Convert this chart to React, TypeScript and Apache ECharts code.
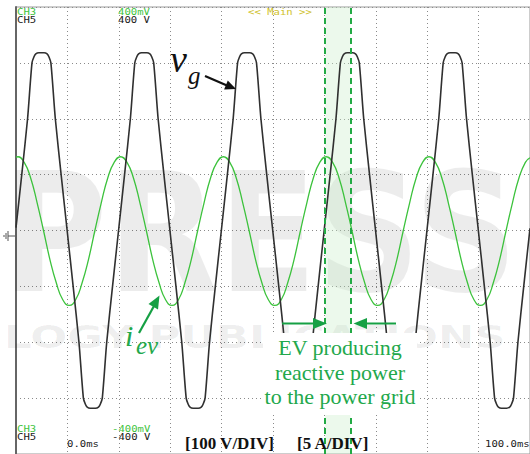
import React, { useEffect, useRef } from "react";
import * as echarts from "echarts";

// Time axis: 0 .. 100 ms (10 ms/div); grid voltage axis: 100 V/div; EV current axis: 5 A/div
const timeRange = [0, 100];
const voltRange = [-400, 400];
const currRange = [-20, 20];

// v_g (grid voltage, V): [time ms, volts]
const vgSamples: [number, number][] = [
  [0, 5], [1.12, 100], [2.25, 200], [3.11, 300], [3.5, 311], [3.85, 316], [4.45, 318], [5.45, 318], [6.05, 316], [6.4, 311], [6.79, 300], [7.65, 200], [8.78, 100], [9.95, 0],
  [11.12, -100], [12.25, -200], [13.11, -300], [13.5, -311], [13.85, -316], [14.45, -318], [15.45, -318], [16.05, -316], [16.4, -311], [16.79, -300], [17.65, -200], [18.78, -100], [19.95, 0],
  [21.12, 100], [22.25, 200], [23.11, 300], [23.5, 311], [23.85, 316], [24.45, 318], [25.45, 318], [26.05, 316], [26.4, 311], [26.79, 300], [27.65, 200], [28.78, 100], [29.95, 0],
  [31.12, -100], [32.25, -200], [33.11, -300], [33.5, -311], [33.85, -316], [34.45, -318], [35.45, -318], [36.05, -316], [36.4, -311], [36.79, -300], [37.65, -200], [38.78, -100], [39.95, 0],
  [41.12, 100], [42.25, 200], [43.11, 300], [43.5, 311], [43.85, 316], [44.45, 318], [45.45, 318], [46.05, 316], [46.4, 311], [46.79, 300], [47.65, 200], [48.78, 100], [49.95, 0],
  [51.12, -100], [52.25, -200], [53.11, -300], [53.5, -311], [53.85, -316], [54.45, -318], [55.45, -318], [56.05, -316], [56.4, -311], [56.79, -300], [57.65, -200], [58.78, -100], [59.95, 0],
  [61.12, 100], [62.25, 200], [63.11, 300], [63.5, 311], [63.85, 316], [64.45, 318], [65.45, 318], [66.05, 316], [66.4, 311], [66.79, 300], [67.65, 200], [68.78, 100], [69.95, 0],
  [71.12, -100], [72.25, -200], [73.11, -300], [73.5, -311], [73.85, -316], [74.45, -318], [75.45, -318], [76.05, -316], [76.4, -311], [76.79, -300], [77.65, -200], [78.78, -100], [79.95, 0],
  [81.12, 100], [82.25, 200], [83.11, 300], [83.5, 311], [83.85, 316], [84.45, 318], [85.45, 318], [86.05, 316], [86.4, 311], [86.79, 300], [87.65, 200], [88.78, 100], [89.95, 0],
  [91.12, -100], [92.25, -200], [93.11, -300], [93.5, -311], [93.85, -316], [94.45, -318], [95.45, -318], [96.05, -316], [96.4, -311], [96.79, -300], [97.65, -200], [98.78, -100], [99.95, 0],
  [100, 4],
];

// i_ev (EV current, A): [time ms, amps]
const ievSamples: [number, number][] = [
  [0, 6.55], [0.35, 6.6], [1.6, 6.1], [2.85, 4.7], [4.1, 2.5], [5.35, 0], [6.6, -2.6], [7.85, -4.7], [9.1, -6.2], [10.35, -6.7], [11.6, -6.2], [12.85, -4.7], [14.1, -2.6], [15.35, 0], [16.6, 2.5], [17.85, 4.7], [19.1, 6.1],
  [20.35, 6.6], [21.6, 6.1], [22.85, 4.7], [24.1, 2.5], [25.35, 0], [26.6, -2.6], [27.85, -4.7], [29.1, -6.2], [30.35, -6.7], [31.6, -6.2], [32.85, -4.7], [34.1, -2.6], [35.35, 0], [36.6, 2.5], [37.85, 4.7], [39.1, 6.1],
  [40.35, 6.6], [41.6, 6.1], [42.85, 4.7], [44.1, 2.5], [45.35, 0], [46.6, -2.6], [47.85, -4.7], [49.1, -6.2], [50.35, -6.7], [51.6, -6.2], [52.85, -4.7], [54.1, -2.6], [55.35, 0], [56.6, 2.5], [57.85, 4.7], [59.1, 6.1],
  [60.35, 6.6], [61.6, 6.1], [62.85, 4.7], [64.1, 2.5], [65.35, 0], [66.6, -2.6], [67.85, -4.7], [69.1, -6.2], [70.35, -6.7], [71.6, -6.2], [72.85, -4.7], [74.1, -2.6], [75.35, 0], [76.6, 2.5], [77.85, 4.7], [79.1, 6.1],
  [80.35, 6.6], [81.6, 6.1], [82.85, 4.7], [84.1, 2.5], [85.35, 0], [86.6, -2.6], [87.85, -4.7], [89.1, -6.2], [90.35, -6.7], [91.6, -6.2], [92.85, -4.7], [94.1, -2.6], [95.35, 0], [96.6, 2.5], [97.85, 4.7], [99.1, 6.1],
  [100, 6.5],
];

// highlighted interval (ms): i_ev peak to v_g peak
const reactiveWindow = [60.15, 65.05];

// on-screen scope texts
const channelLabels = ["CH3", "CH5"];
const topScaleLabels = ["400mV", "400 V"];
const bottomScaleLabels = ["-400mV", "-400 V"];
const timeLabels = ["0.0ms", "100.0ms"];
const divLabels = ["[100 V/DIV]", "[5 A/DIV]"];
const noteLines = ["EV producing", "reactive power", "to the power grid"];
const watermarkLines = ["PRESS", "LOGY PUBLICATIONS"];

const GREEN_TRACE = "#3cc23c";
const GREEN_TEXT = "#22a84b";
const GREEN_ARROW = "#16a044";
const SCOPE_GREEN = "#3fc43f";
const MONO = '"DejaVu Sans Mono", monospace';
const SERIF = '"Liberation Serif", "Times New Roman", serif';

function buildOption(): any {
  const txt = (text: string, x: number, y: number, font: string, fill: string, extra: any = {}, el: any = {}) => ({
    type: "text",
    x,
    y,
    z: 120,
    silent: true,
    ...el,
    style: { text, font, fill, verticalAlign: "middle", align: "left", ...extra },
  });
  const mono = (text: string, x: number, y: number, fill: string) =>
    txt(text, x, y, `8.5px ${MONO}`, fill, {}, { scaleX: 1.25 });
  const ln = (x1: number, y1: number, x2: number, y2: number, stroke: string, w: number, z = 120) => ({
    type: "line",
    z,
    silent: true,
    shape: { x1, y1, x2, y2 },
    style: { stroke, lineWidth: w },
  });
  const poly = (points: number[][], fill: string) => ({
    type: "polygon",
    z: 120,
    silent: true,
    shape: { points },
    style: { fill },
  });

  const elements: any[] = [
    // watermark
    {
      type: "text", x: 2, y: 234, z: 1, silent: true, scaleY: 1.15,
      style: { text: watermarkLines[0], font: 'bold 144px "DejaVu Sans"', fill: "rgba(0,0,0,0.075)", verticalAlign: "middle" },
    },
    {
      type: "text", x: 4, y: 337, z: 1, silent: true, scaleX: 1.36,
      style: { text: watermarkLines[1], font: 'bold 32px "DejaVu Sans"', fill: "rgba(0,0,0,0.065)", verticalAlign: "middle" },
    },
    // top scope labels
    mono(channelLabels[0], 17, 12, SCOPE_GREEN),
    mono(channelLabels[1], 17, 19.8, "#222"),
    mono(topScaleLabels[0], 118, 12, SCOPE_GREEN),
    mono(topScaleLabels[1], 118, 19.8, "#222"),
    mono("<< Main >>", 248, 12, "#cfc12a"),
    // bottom scope labels
    mono(channelLabels[0], 17, 429.3, SCOPE_GREEN),
    mono(channelLabels[1], 17, 437.1, "#222"),
    mono(bottomScaleLabels[0], 112, 429.3, SCOPE_GREEN),
    mono(bottomScaleLabels[1], 112, 437.1, "#222"),
    mono(timeLabels[0], 67, 444, "#222"),
    mono(timeLabels[1], 485, 444, "#222"),
    txt(divLabels[0], 185, 443, `bold 17px ${SERIF}`, "#111"),
    txt(divLabels[1], 297, 443, `bold 17px ${SERIF}`, "#111"),
    // ground marker
    ln(8, 236, 15, 236, "#555", 1),
    ln(8, 231, 8, 241, "#555", 1),
    ln(6, 233, 6, 239, "#555", 1),
    ln(4, 235, 4, 237, "#555", 1),
    // v_g label + arrow
    txt("v", 170, 59, `italic 38px ${SERIF}`, "#111"),
    txt("g", 188, 75, `italic 25px ${SERIF}`, "#111"),
    ln(205, 76, 227, 85.5, "#111", 2.2),
    poly([[236, 89], [224.1, 89.5], [227.8, 80.5]], "#111"),
    // i_ev label + arrow
    txt("i", 125, 335, `italic 30px ${SERIF}`, GREEN_TEXT),
    txt("ev", 136, 345, `italic 25px ${SERIF}`, GREEN_TEXT),
    ln(139, 333, 154, 306, GREEN_ARROW, 2.2),
    poly([[159.5, 295.5], [158, 309.5], [148.5, 304]], GREEN_ARROW),
    // window arrows
    ln(282, 323.5, 315, 323.5, GREEN_ARROW, 2),
    poly([[327, 323.5], [313, 318], [313, 329]], GREEN_ARROW),
    ln(396, 323.5, 365, 323.5, GREEN_ARROW, 2),
    poly([[353.5, 323.5], [367, 318], [367, 329]], GREEN_ARROW),
    // annotation box
    { type: "rect", z: 110, silent: true, shape: { x: 263, y: 333, width: 154, height: 82 }, style: { fill: "#ffffff" } },
    txt(noteLines[0], 340, 347.5, `22px ${SERIF}`, GREEN_TEXT, { align: "center" }),
    txt(noteLines[1], 340, 372.5, `22px ${SERIF}`, GREEN_TEXT, { align: "center" }),
    txt(noteLines[2], 340, 396.5, `22px ${SERIF}`, GREEN_TEXT, { align: "center" }),
  ];

  const dotted = { type: [1, 3], color: "#8a8a8a", width: 1 };

  return {
    animation: false,
    backgroundColor: "#ffffff",
    grid: {
      left: 16,
      top: 7,
      width: 517.5,
      height: 448,
      show: true,
      borderColor: "#9a9a9a",
      borderWidth: 1,
      backgroundColor: "#ffffff",
      containLabel: false,
    },
    xAxis: {
      type: "value",
      min: timeRange[0],
      max: timeRange[1],
      interval: 10,
      axisLine: { show: false },
      axisTick: { show: false },
      axisLabel: { show: false },
      splitLine: { show: true, lineStyle: dotted },
    },
    yAxis: [
      {
        type: "value",
        min: voltRange[0],
        max: voltRange[1],
        interval: 100,
        axisLine: { show: true, onZero: false, lineStyle: { color: "#666", width: 2 } },
        axisTick: { show: false },
        axisLabel: { show: false },
        splitLine: { show: true, lineStyle: dotted },
      },
      {
        type: "value",
        min: currRange[0],
        max: currRange[1],
        interval: 5,
        show: false,
        splitLine: { show: false },
      },
    ],
    series: [
      {
        type: "line",
        name: "window",
        data: [],
        z: 1,
        silent: true,
        markArea: {
          silent: true,
          itemStyle: { color: "rgba(200,238,200,0.35)" },
          data: [[{ xAxis: reactiveWindow[0] }, { xAxis: reactiveWindow[1] }]],
        },
        markLine: {
          silent: true,
          symbol: "none",
          label: { show: false },
          lineStyle: { type: [6, 4], color: "#22aa44", width: 2 },
          data: [{ xAxis: reactiveWindow[0] }, { xAxis: reactiveWindow[1] }],
        },
      },
      {
        type: "line",
        name: "i_ev",
        yAxisIndex: 1,
        data: ievSamples,
        showSymbol: false,
        smooth: 0.5,
        z: 3,
        lineStyle: { color: GREEN_TRACE, width: 1.3 },
      },
      {
        type: "line",
        name: "v_g",
        yAxisIndex: 0,
        data: vgSamples,
        showSymbol: false,
        smooth: 0.25,
        z: 4,
        lineStyle: { color: "#303030", width: 1.6 },
      },
    ],
    graphic: { elements },
  };
}

export default function App() {
  const ref = useRef<HTMLDivElement>(null);
  useEffect(() => {
    document.body.style.margin = "0";
    const chart = echarts.init(ref.current as HTMLDivElement, null, { renderer: "svg" });
    chart.setOption(buildOption());
    return () => chart.dispose();
  }, []);
  return (
    <div
      ref={ref}
      style={{ position: "absolute", left: 0, top: 0, width: 530, height: 454, background: "#fff" }}
    />
  );
}
